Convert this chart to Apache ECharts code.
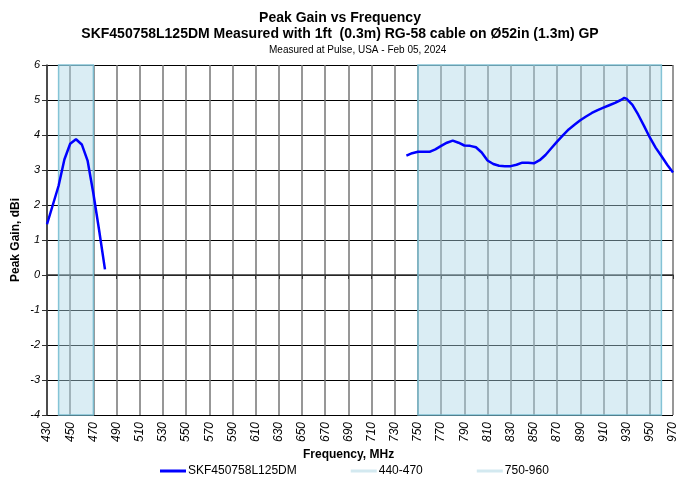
<!DOCTYPE html>
<html>
<head>
<meta charset="utf-8">
<script src="https://cdn.jsdelivr.net/npm/echarts@6/dist/echarts.min.js"></script>
<style>html,body{margin:0;padding:0;background:#fff}#c{width:680px;height:481px}</style>
</head>
<body>
<div id="c"></div>
<script>
// ---- data ----
var seriesName = 'SKF450758L125DM';
var lowFreq = [430, 435, 440, 445, 450, 455, 460, 465, 470, 475, 480];
var lowGain = [1.45, 2.0, 2.55, 3.3, 3.75, 3.88, 3.73, 3.27, 2.33, 1.27, 0.16];
var highFreq = [740, 745, 750, 755, 760, 765, 770, 775, 780, 785, 790, 795, 800, 805, 810, 815, 820, 825, 830, 835, 840, 845, 850, 855, 860, 865, 870, 875, 880, 885, 890, 895, 900, 905, 910, 915, 920, 925, 928, 930, 935, 940, 945, 950, 955, 960, 965, 970];
var highGain = [3.41, 3.48, 3.52, 3.52, 3.52, 3.59, 3.69, 3.78, 3.84, 3.78, 3.70, 3.69, 3.65, 3.50, 3.27, 3.17, 3.12, 3.11, 3.11, 3.15, 3.21, 3.21, 3.19, 3.28, 3.43, 3.62, 3.81, 3.99, 4.16, 4.29, 4.42, 4.53, 4.63, 4.71, 4.78, 4.85, 4.92, 5.0, 5.06, 5.03, 4.86, 4.58, 4.26, 3.93, 3.64, 3.40, 3.15, 2.93];
var bandNames = ['440-470', '750-960'];
var bandRanges = [[440, 470], [750, 960]];
var xMin = 430, xMax = 970, xStep = 20;
var yMin = -4, yMax = 6, yStep = 1;

// offset so that ticks start at 430 with a 20 MHz step
var off = xMin;
var lineData = [];
lowFreq.forEach(function (f, i) { lineData.push([f - off, lowGain[i]]); });
lineData.push([(lowFreq[lowFreq.length - 1] + highFreq[0]) / 2 - off, null]);
highFreq.forEach(function (f, i) { lineData.push([f - off, highGain[i]]); });

var bandColor = '#d3e9f0';
var bandSeries = bandNames.map(function (n, i) {
  return {
    name: n, type: 'line', data: [], z: 1,
    color: bandColor,
    lineStyle: { color: bandColor, width: 4 },
    markArea: {
      silent: true,
      itemStyle: { color: 'rgba(173,216,230,0.45)', borderColor: 'rgba(120,190,210,0.9)', borderWidth: 1.5 },
      data: [[{ xAxis: bandRanges[i][0] - off }, { xAxis: bandRanges[i][1] - off }]]
    }
  };
});

var chart = echarts.init(document.getElementById('c'), null, { renderer: 'canvas' });
var font = 'Liberation Sans, Arial, sans-serif';
chart.setOption({
  animation: false,
  textStyle: { fontFamily: font },
  title: [
    { text: 'Peak Gain vs Frequency', left: 'center', top: 6, textStyle: { fontSize: 14, fontWeight: 'bold', color: '#000', fontFamily: font } },
    { text: 'SKF450758L125DM Measured with 1ft  (0.3m) RG-58 cable on \u00D852in (1.3m) GP', left: 'center', top: 22, textStyle: { fontSize: 14, fontWeight: 'bold', color: '#000', fontFamily: font } },
    { text: 'Measured at Pulse, USA - Feb 05, 2024', left: 264, top: 40, textStyle: { fontSize: 10, fontWeight: 'normal', color: '#000', fontFamily: font } },
    { text: 'Frequency, MHz', left: 298, top: 444, textStyle: { fontSize: 12, fontWeight: 'bold', color: '#000', fontFamily: font } }
  ],
  legend: {
    left: 155, top: 460, itemWidth: 26, itemHeight: 3, itemGap: 54, icon: 'rect',
    textStyle: { fontSize: 12, color: '#000', fontFamily: font, padding: [0, 0, 0, -3] },
    data: [seriesName].concat(bandNames)
  },
  grid: { left: 47, right: 7, top: 65, bottom: 66, containLabel: false, outerBoundsMode: 'none' },
  xAxis: {
    type: 'value', min: xMin - off, max: xMax - off, interval: xStep,
    axisLine: { show: true, lineStyle: { color: '#333', width: 1.5 } },
    axisTick: { show: true, length: 4, lineStyle: { color: '#333' } },
    axisLabel: { rotate: 90, fontSize: 12, fontStyle: 'italic', color: '#000', margin: 7,
      formatter: function (v) { return String(v + off); } },
    splitLine: { show: true, lineStyle: { color: '#747474', width: 1.5 } }
  },
  yAxis: {
    type: 'value', min: yMin, max: yMax, interval: yStep,
    name: 'Peak Gain, dBi', nameLocation: 'middle', nameRotate: 90, nameGap: 25,
    nameMoveOverlap: false,
    nameTextStyle: { fontSize: 12, fontWeight: 'bold', color: '#000', fontFamily: font },
    axisLine: { show: true, lineStyle: { color: '#333', width: 1.5 } },
    axisTick: { show: true, length: 5, lineStyle: { color: '#333' } },
    axisLabel: { fontSize: 11, fontStyle: 'italic', color: '#000', margin: 7 },
    splitLine: { show: true, lineStyle: { color: '#000', width: 1 } }
  },
  series: [{
    name: seriesName, type: 'line', data: lineData, connectNulls: false,
    showSymbol: false, symbol: 'none', z: 5,
    color: '#0000ff',
    lineStyle: { color: '#0000ff', width: 2.5 }
  }].concat(bandSeries)
});
</script>
</body>
</html>
